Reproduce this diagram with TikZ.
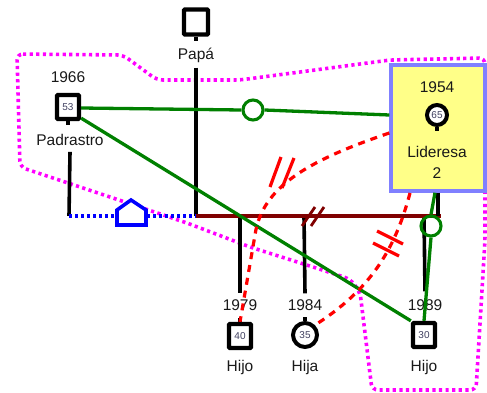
\documentclass[tikz,border=0pt]{standalone}
\usepackage{fontspec}
\setmainfont{Liberation Sans}
\usetikzlibrary{calc}
\definecolor{grn}{HTML}{008000}
\definecolor{mar}{HTML}{800000}
\definecolor{mag}{HTML}{FF00FF}
\definecolor{bl}{HTML}{0000FF}
\definecolor{lidfill}{HTML}{FFFF88}
\definecolor{lidbord}{HTML}{8080FF}
\definecolor{agecol}{HTML}{404060}
\begin{document}
\begin{tikzpicture}[x=1pt,y=-1pt,
  lbl/.style={font=\fontsize{15.5}{17}\selectfont, text=black!90, inner sep=0pt},
  male/.style={draw=black, line width=4.3pt, fill=white, rectangle, rounded corners=1pt,
    minimum width=22pt, minimum height=24pt, inner sep=0pt,
    font=\fontsize{10}{11}\selectfont, text=agecol},
  female/.style={draw=black, line width=4pt, fill=white, circle,
    minimum size=24pt, inner sep=0pt, font=\fontsize{10}{11}\selectfont, text=agecol},
  famline/.style={draw=black, line width=3.6pt},
  emo/.style={draw=grn, line width=3.3pt},
  emocirc/.style={draw=grn, line width=3.1pt, fill=none, circle, minimum size=20pt, inner sep=0pt},
  conflict/.style={draw=red, line width=3.2pt, dash pattern=on 7pt off 6pt},
  cmark/.style={draw=red, line width=3.2pt},
  bound/.style={draw=mag, line width=3.6pt, dash pattern=on 3.2pt off 3.4pt},
]
\useasboundingbox (0,0) rectangle (487,393);

% magenta household boundary
\draw[bound, rounded corners=6pt] (17,54) -- (123,55) -- (157,80) -- (240,80) -- (390,60) -- (485,58)
  -- (485,240) -- (476,390) -- (372,390) -- (360,292) -- (350,279) -- (313,267) -- (250,247)
  -- (187,223) -- (110,197) -- (20,167) -- cycle;

% persons
\node[male, minimum width=24pt, minimum height=25pt] (papa) at (196,22) {};
\node[lbl] (papalbl) at (196,55) {Papá};
\node[male] (pad) at (68,107) {53};
\node[lbl] (padyr) at (68,77) {1966};
\node[lbl] (padlbl) at (70,140) {Padrastro};

\node[male] (h1) at (240,336) {40};
\node[female] (h2) at (305,335) {35};
\node[male] (h3) at (424,335) {30};
\node[lbl] (y1) at (240,305) {1979};
\node[lbl] (y2) at (305,305) {1984};
\node[lbl] (y3) at (425,305) {1989};
\node[lbl] (l1) at (240,367) {Hijo};
\node[lbl] (l2) at (305,367) {Hija};
\node[lbl] (l3) at (424,367) {Hijo};

% stubs
\draw[famline] (papa.south) -- ++(0,4);
\draw[famline] (pad.south) -- ++(0,4);
\draw[famline] (h1.north) -- ++(0,-4);
\draw[famline] (h2.north) -- ++(0,-4);

% coordinates of family lines
\coordinate (pj) at (196,216);
\coordinate (dj) at (69,216);
\coordinate (lj) at (438,216);
\coordinate (c1) at (240,216);
\coordinate (c2) at (304,216);
\coordinate (c3) at (424,216);
\coordinate (house) at (131,213);

% Papá and Padrastro verticals
\draw[famline] ($(papalbl.south)+(0,5)$) -- (pj);
\draw[famline] ($(padlbl.south)+(0,6)$) -- (dj);

% children lines
\draw[famline] (c1) -- ($(y1.north)+(0,-6)$);
\draw[famline] (c2) -- ($(y2.north)+(0,-6)$);
\draw[famline] (c3) -- ($(y3.north)+(0,-8)$);

% blue separation line with house
\draw[bl, line width=3.6pt, dash pattern=on 3pt off 3pt] (dj) -- (pj);
\draw[bl, line width=3.6pt, fill=white] ($(house)+(-14,12)$) -- ($(house)+(-14,-3)$) -- ($(house)+(0,-13)$)
  -- ($(house)+(15,-3)$) -- ($(house)+(15,12)$) -- cycle;

% maroon marriage line
\draw[mar, line width=3.8pt] (pj) -- (441,216);
\draw[mar, line width=2.8pt] (302,226) -- (315,207) (311,226) -- (324,207);

% Lideresa box
\node[draw=lidbord, line width=3.4pt, fill=lidfill, minimum width=94pt, minimum height=126pt, inner sep=0pt]
  (lid) at (438,128) {};
\node[lbl] (lidyr) at (437,87) {1954};
\node[female, minimum size=20pt] (lidc) at (437,115) {65};
\draw[famline] (lidc.south) -- ++(0,4);
\node[lbl] (lidlbl) at (437,152) {Lideresa};
\node[lbl] (lidnum) at (437,173) {2};

\draw[famline] (lid.south -| lj) -- (lj);

% green emotional lines
\node[emocirc] (gc1) at (253,110) {};
\draw[emo] (pad.east |- 0,108) -- (gc1.west);
\draw[emo] (gc1.east) -- (lid.west |- 0,115);
\node[emocirc] (gc2) at (431,226) {};
\draw[emo] (lid.south -| 435,0) -- (gc2.north);
\draw[emo] (gc2.south) -- (h3.north);
\draw[emo] ($(pad.south east)+(0,-3)$) -- (h3.north west);

% red conflict lines
\draw[conflict] (lid.west |- 0,133) .. controls (310,160) and (262,186) .. (255,235) -- (h1.north);
\draw[cmark] (270,187) -- (281,157) (282,188) -- (294,158);
\draw[conflict] (410,193) .. controls (395,250) and (370,290) .. (h2.north east);
\draw[cmark] (377,231) -- (403,244) (373,243) -- (399,256);
\end{tikzpicture}
\end{document}
